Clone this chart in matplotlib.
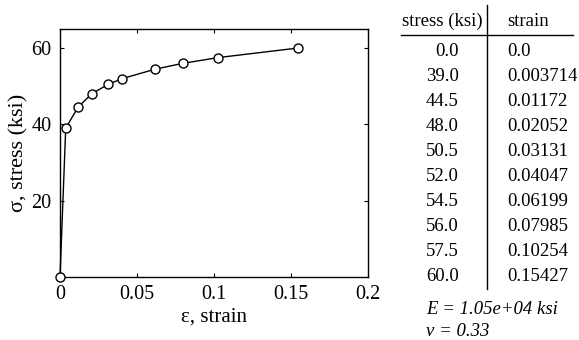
import matplotlib
matplotlib.use("Agg")
import matplotlib.pyplot as plt
from matplotlib.lines import Line2D

plt.rcParams['font.family'] = ['Liberation Serif', 'DejaVu Serif']

stress = [0.0, 39.0, 44.5, 48.0, 50.5, 52.0, 54.5, 56.0, 57.5, 60.0]
strain = [0.0, 0.003714, 0.01172, 0.02052, 0.03131, 0.04047, 0.06199, 0.07985, 0.10254, 0.15427]
strain_labels = ['0.0', '0.003714', '0.01172', '0.02052', '0.03131',
                 '0.04047', '0.06199', '0.07985', '0.10254', '0.15427']
x_ticks = [0, 0.05, 0.1, 0.15, 0.2]
x_tick_labels = ['0', '0.05', '0.1', '0.15', '0.2']
y_ticks = [20, 40, 60]
E_text = 'E = 1.05e+04 ksi'
nu_text = '\u03bd = 0.33'

W, H = 579, 340
fig = plt.figure(figsize=(W / 100, H / 100), dpi=100)

# axes box in pixels: left 60, right 368, top 29, bottom 277
ax = fig.add_axes([60 / W, 1 - 277 / H, (368 - 60) / W, (277 - 29) / H])
ax.plot(strain, stress, '-o', color='black', lw=1.0, ms=6.5,
        mfc='white', mec='black', mew=1.0, clip_on=False, zorder=3)
ax.set_xlim(0, 0.2)
ax.set_ylim(0, 65)
ax.set_xticks(x_ticks)
ax.set_xticklabels(x_tick_labels)
ax.set_yticks(y_ticks)
ax.tick_params(direction='in', length=3, width=0.8, labelsize=14.5,
               top=True, right=True, pad=6)
for s in ax.spines.values():
    s.set_linewidth(1.0)
ax.set_xlabel('\u03b5, strain', fontsize=15, labelpad=2)
ax.set_ylabel('\u03c3, stress (ksi)', fontsize=16, labelpad=2)

# table on the right, in pixel coords
def fx(px):
    return px / W

def fy(py):
    return 1 - py / H

fs = 13.5
fig.text(fx(442), fy(21), 'stress (ksi)', ha='center', va='center', fontsize=fs)
fig.text(fx(507), fy(21), 'strain', ha='left', va='center', fontsize=fs)
fig.add_artist(Line2D([fx(401), fx(573)], [fy(35), fy(35)], color='black', lw=1.0))
fig.add_artist(Line2D([fx(487), fx(487)], [fy(5), fy(289)], color='black', lw=1.0))

row0 = 52
dy = 24.9
for i in range(len(stress)):
    y = row0 + i * dy
    fig.text(fx(459), fy(y), '%.1f' % stress[i], ha='right', va='center', fontsize=fs)
    fig.text(fx(507), fy(y), strain_labels[i], ha='left', va='center', fontsize=fs)

fig.text(fx(426), fy(309), E_text, ha='left', va='center', fontsize=fs, style='italic')
fig.text(fx(426), fy(331), nu_text, ha='left', va='center', fontsize=fs, style='italic')

fig.savefig('out.png', dpi=100)
